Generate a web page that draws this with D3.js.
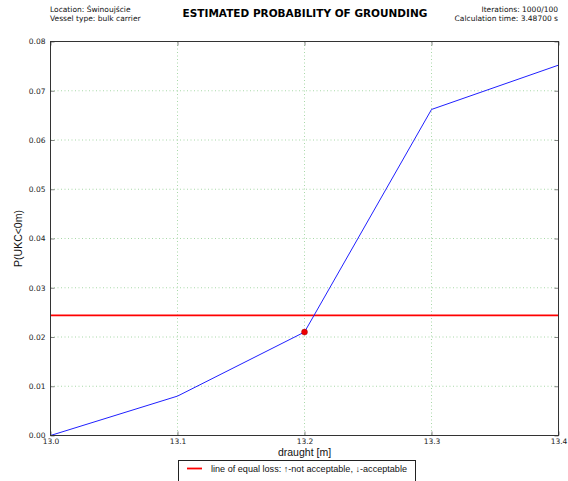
<!DOCTYPE html>
<html>
<head>
<meta charset="utf-8">
<script src="https://cdn.jsdelivr.net/npm/d3@7/dist/d3.min.js"></script>
<style>
  html, body { margin: 0; padding: 0; background: #fff; }
  svg { display: block; font-family: "DejaVu Sans", sans-serif; }
</style>
</head>
<body>
<svg id="chart" width="568" height="481"></svg>
<script>
// Draughts [m] and estimated probability of grounding P(UKC<0m)
const draughts = [13.0, 13.1, 13.2, 13.3, 13.4];
const probabilities = [0.0, 0.008, 0.021, 0.0662, 0.0752];
// Line of equal loss
const equalLossLevel = 0.0244;
// Highlighted point (last acceptable draught)
const markedDraught = [13.2];
const markedProbability = [0.021];
const xTicks = [13.0, 13.1, 13.2, 13.3, 13.4];
const yTicks = [0.00, 0.01, 0.02, 0.03, 0.04, 0.05, 0.06, 0.07, 0.08];
const legendLabel = "line of equal loss: \u2191-not acceptable, \u2193-acceptable";

const svg = d3.select("#chart");
const L = 50.5, R = 558.5, T = 41.5, B = 435.5;
const sans = "'Liberation Sans', Arial, sans-serif";

const x = d3.scaleLinear().domain([13.0, 13.4]).range([L, R]);
const y = d3.scaleLinear().domain([0, 0.08]).range([B, T]);

// Header texts
svg.append("text").attr("x", 50).attr("y", 12).attr("font-size", 7.5).attr("fill", "#111")
  .text("Location: \u015awinouj\u015bcie");
svg.append("text").attr("x", 50).attr("y", 21).attr("font-size", 7.5).attr("fill", "#111")
  .text("Vessel type: bulk carrier");
svg.append("text").attr("x", 305).attr("y", 17).attr("font-size", 10.5).attr("font-weight", "bold")
  .attr("text-anchor", "middle").attr("fill", "#000")
  .text("ESTIMATED PROBABILITY OF GROUNDING");
svg.append("text").attr("x", 558).attr("y", 12).attr("font-size", 7.5).attr("text-anchor", "end").attr("fill", "#111")
  .text("Iterations: 1000/100");
svg.append("text").attr("x", 558).attr("y", 21).attr("font-size", 7.5).attr("text-anchor", "end").attr("fill", "#111")
  .text("Calculation time: 3.48700 s");

// Grid
const grid = svg.append("g").attr("stroke", "#9ed49e").attr("stroke-width", 0.9)
  .attr("stroke-dasharray", "1,2.5");
xTicks.slice(1, -1).forEach(v => {
  grid.append("line").attr("x1", x(v)).attr("x2", x(v)).attr("y1", T).attr("y2", B);
});
yTicks.slice(1, -1).forEach(v => {
  grid.append("line").attr("x1", L).attr("x2", R).attr("y1", y(v)).attr("y2", y(v));
});

// Axes with inward ticks on all sides
const fmtX = d3.format(".1f");
const fmtY = d3.format(".2f");
const xAxisB = d3.axisBottom(x).tickValues(xTicks).tickFormat(fmtX).tickSizeInner(-4).tickSizeOuter(0).tickPadding(3);
const xAxisT = d3.axisTop(x).tickValues(xTicks).tickFormat("").tickSizeInner(-4).tickSizeOuter(0);
const yAxisL = d3.axisLeft(y).tickValues(yTicks).tickFormat(fmtY).tickSizeInner(-4).tickSizeOuter(0).tickPadding(5);
const yAxisR = d3.axisRight(y).tickValues(yTicks).tickFormat("").tickSizeInner(-4).tickSizeOuter(0);

function styleAxis(g) {
  g.select(".domain").remove();
  g.selectAll(".tick line").attr("stroke", "#333").attr("stroke-width", 0.6);
  g.selectAll("text").attr("font-size", 7.5).attr("fill", "#222").attr("font-family", "DejaVu Sans, sans-serif");
}
svg.append("g").attr("transform", `translate(0,${B})`).call(xAxisB).call(styleAxis);
svg.append("g").attr("transform", `translate(0,${T})`).call(xAxisT).call(styleAxis);
svg.append("g").attr("transform", `translate(${L},0)`).call(yAxisL).call(styleAxis);
svg.append("g").attr("transform", `translate(${R},0)`).call(yAxisR).call(styleAxis);

// Equal-loss line
svg.append("line").attr("x1", L).attr("x2", R)
  .attr("y1", y(equalLossLevel)).attr("y2", y(equalLossLevel))
  .attr("stroke", "#f00").attr("stroke-width", 1.8);

// Probability curve
const line = d3.line().x((d, i) => x(draughts[i])).y(d => y(d));
svg.append("path").datum(probabilities).attr("d", line)
  .attr("fill", "none").attr("stroke", "#2020ff").attr("stroke-width", 1);

// Marked point
svg.selectAll("circle.mark").data(markedDraught).join("circle").attr("class", "mark")
  .attr("cx", d => x(d)).attr("cy", (d, i) => y(markedProbability[i])).attr("r", 3)
  .attr("fill", "#e00").attr("stroke", "#800").attr("stroke-width", 0.4);

// Frame
svg.append("rect").attr("x", L).attr("y", T).attr("width", R - L).attr("height", B - T)
  .attr("fill", "none").attr("stroke", "#333").attr("stroke-width", 1);

// Axis titles
svg.append("text").attr("x", (L + R) / 2).attr("y", 455.5).attr("text-anchor", "middle")
  .attr("font-family", sans).attr("font-size", 10.5).attr("fill", "#111").text("draught [m]");
svg.append("text").attr("transform", `translate(22,${(T + B) / 2}) rotate(-90)`)
  .attr("font-family", sans).attr("text-anchor", "middle").attr("font-size", 10.5).attr("fill", "#111").text("P(UKC<0m)");

// Legend
const lg = svg.append("g");
lg.append("rect").attr("x", 178.5).attr("y", 460.5).attr("width", 237).attr("height", 30)
  .attr("fill", "#fff").attr("stroke", "#222").attr("stroke-width", 1);
lg.append("line").attr("x1", 187).attr("x2", 202).attr("y1", 468.5).attr("y2", 468.5)
  .attr("stroke", "#f00").attr("stroke-width", 1.8);
lg.append("text").attr("x", 211).attr("y", 471.5).attr("font-family", sans).attr("font-size", 8.6).attr("fill", "#111")
  .attr("textLength", 196).attr("lengthAdjust", "spacingAndGlyphs")
  .text(legendLabel);
</script>
</body>
</html>
